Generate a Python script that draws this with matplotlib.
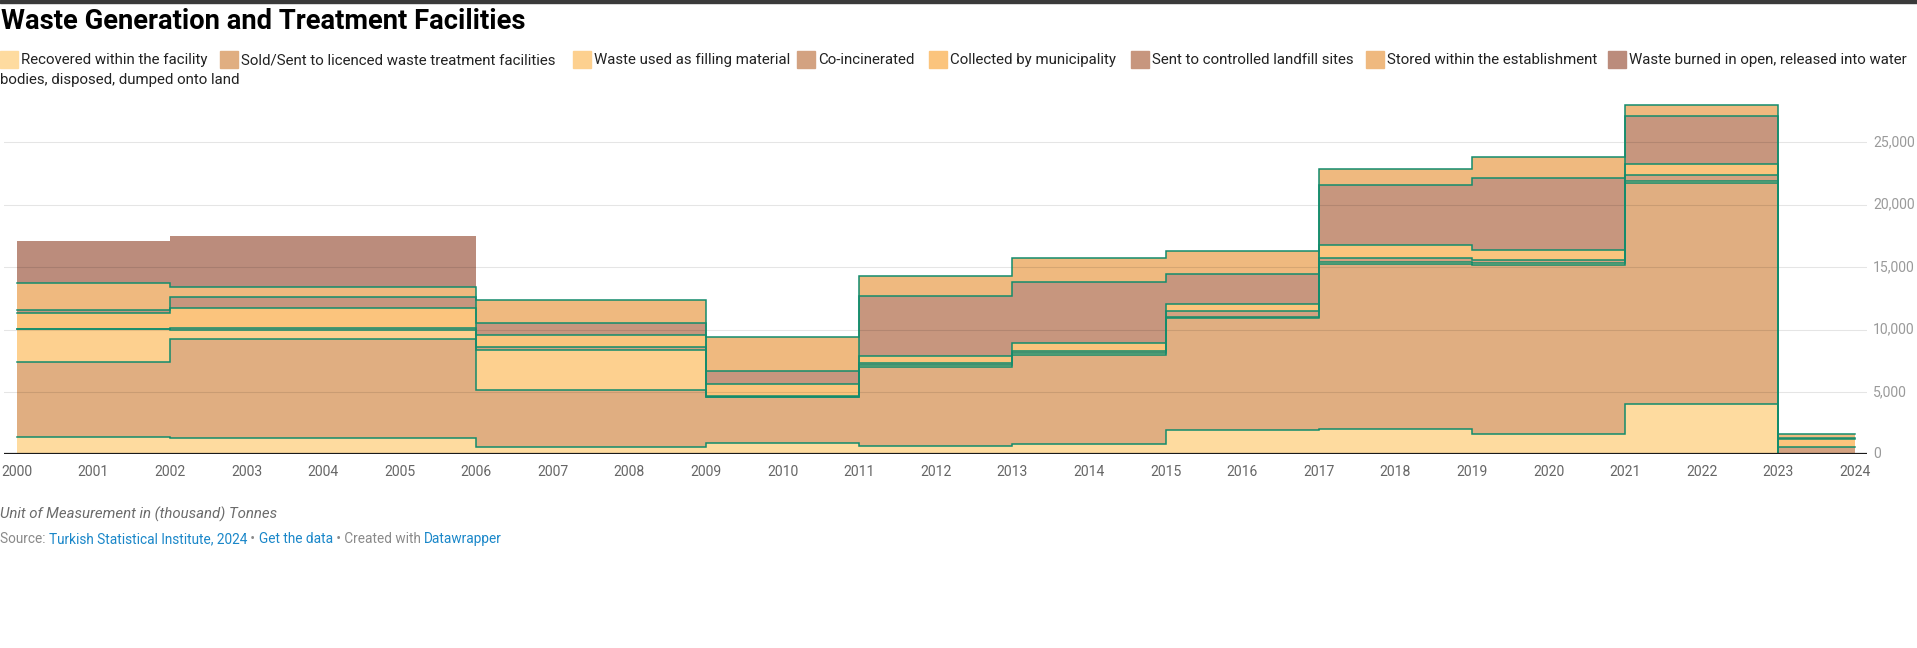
import numpy as np
import matplotlib
matplotlib.use("Agg")
import matplotlib.pyplot as plt
from matplotlib.patches import Rectangle

plt.rcParams['font.family'] = ['Roboto', 'DejaVu Sans']

W, H = 1917, 648
DPI = 100

years = [2000, 2004, 2008, 2010, 2012, 2014, 2016, 2018, 2020, 2022, 2024]
series_names = [
    "Recovered within the facility",
    "Sold/Sent to licenced waste treatment facilities",
    "Waste used as filling material",
    "Co-incinerated",
    "Collected by municipality",
    "Sent to controlled landfill sites",
    "Stored within the establishment",
    "Waste burned in open, released into water bodies, disposed, dumped onto land",
]
recovered = [1410, 1306, 609, 881, 665, 825, 1923, 2027, 1626, 4054, 0]
sold      = [5962, 7957, 4543, 3719, 6306, 7132, 8998, 13245, 13518, 17685, 0]
filling   = [2668, 697, 3205, 20, 184, 184, 105, 112, 160, 160, 0]
coinc     = [20, 136, 217, 27, 185, 160, 456, 369, 289, 505, 600]
municip   = [1238, 1627, 961, 986, 513, 641, 585, 1018, 777, 881, 590]
landfill  = [289, 905, 962, 1042, 4855, 4888, 2356, 4832, 5793, 3798, 100]
stored    = [2139, 802, 1867, 2700, 1579, 1875, 1843, 1257, 1683, 881, 361]
burned    = [3341, 4062, 0, 0, 0, 0, 0, 0, 0, 0, 0]

colors = ['#fedb9f', '#e0ae81', '#fdd08f', '#d3a281', '#fbc47d', '#c7967e', '#efb97f', '#bb8c7c']
green = '#138c6c'

data = np.array([recovered, sold, filling, coinc, municip, landfill, stored, burned], dtype=float)
cum = np.cumsum(data, axis=0)
x = np.array(years, dtype=float)

fig = plt.figure(figsize=(W / DPI, H / DPI), dpi=DPI)

def fx(px):
    return px / W

def fy(py):
    return 1 - py / H

# axes placement (pixels)
left_px, right_px = 4, 1867
top_px, bottom_px = 100, 454.3
ax = fig.add_axes([fx(left_px), fy(bottom_px), fx(right_px - left_px), (bottom_px - top_px) / H])
ppy = 76.62  # px per year
xmin = 2000 - (16.7 - left_px) / ppy
xmax = 2024 + (right_px - 1855) / ppy
ax.set_xlim(xmin, xmax)
ymax = (bottom_px - top_px) / 0.01248
ax.set_ylim(0, ymax)

base = np.zeros_like(x)
for i in range(len(data)):
    ax.fill_between(x, base, cum[i], step='mid', color=colors[i], linewidth=0, zorder=2)
    base = cum[i]

for yv in [5000, 10000, 15000, 20000, 25000]:
    ax.axhline(yv, color='black', alpha=0.1, lw=0.8, zorder=3)

for i in range(7):
    ax.step(x, cum[i], where='mid', color=green, lw=1.1, zorder=4, solid_joinstyle='miter')

ax.axhline(0, color='#1a1a1a', lw=1.6, zorder=5)

for s in ax.spines.values():
    s.set_visible(False)
ax.set_yticks([])
ax.set_xticks(range(2000, 2025))
ax.set_xticklabels([str(y) for y in range(2000, 2025)], fontsize=10.1, color='#666666')
ax.tick_params(axis='x', length=0, pad=8)
ax.patch.set_alpha(0)

for yv in [0, 5000, 10000, 15000, 20000, 25000]:
    ax.text(1.0 + (1873 - right_px) / (right_px - left_px), yv, f"{yv:,}",
            transform=ax.get_yaxis_transform(), ha='left', va='center',
            fontsize=10.1, color='#9a9a9a', clip_on=False)

# top bar
fig.patches.append(Rectangle((0, fy(2.7)), 1, 2.7 / H, transform=fig.transFigure,
                             color='#3a3a3a', zorder=10))

# title
fig.text(fx(1), fy(29), "Waste Generation and Treatment Facilities", fontsize=19.7,
         fontweight='bold', color='#000000', va='baseline', ha='left')

# legend
sw = 17.7
legend_items = [
    (0, series_names[0]),
    (220, series_names[1]),
    (573, series_names[2]),
    (797, series_names[3]),
    (929, series_names[4]),
    (1131, series_names[5]),
    (1366, series_names[6]),
    (1608, "Waste burned in open, released into water"),
]
for i, (lx, label) in enumerate(legend_items):
    fig.patches.append(Rectangle((fx(lx), fy(50.7 + sw)), sw / W, sw / H,
                                 transform=fig.transFigure, color=colors[i], zorder=10))
    fig.text(fx(lx + sw + 3.5), fy(64.3), label, fontsize=10.85, color='#222222',
             va='baseline', ha='left')
fig.text(fx(0), fy(84.3), "bodies, disposed, dumped onto land", fontsize=10.85,
         color='#222222', va='baseline', ha='left')

# footer
fig.text(fx(0), fy(519), "Unit of Measurement in (thousand) Tonnes", fontsize=10.8,
         style='italic', color='#6b6b6b', va='baseline', ha='left')

fig.canvas.draw()
renderer = fig.canvas.get_renderer()
parts = [("Source: ", '#8a8a8a'), ("Turkish Statistical Institute, 2024", '#1a87c9'),
         (" \u2022 ", '#8a8a8a'), ("Get the data", '#1a87c9'),
         (" \u2022 Created with ", '#8a8a8a'), ("Datawrapper", '#1a87c9')]
cx = 0.0
for txt, col in parts:
    t = fig.text(fx(cx), fy(543), txt, fontsize=9.85, color=col, va='baseline', ha='left')
    bb = t.get_window_extent(renderer=renderer)
    cx += bb.width

fig.savefig("out.png", dpi=DPI)
